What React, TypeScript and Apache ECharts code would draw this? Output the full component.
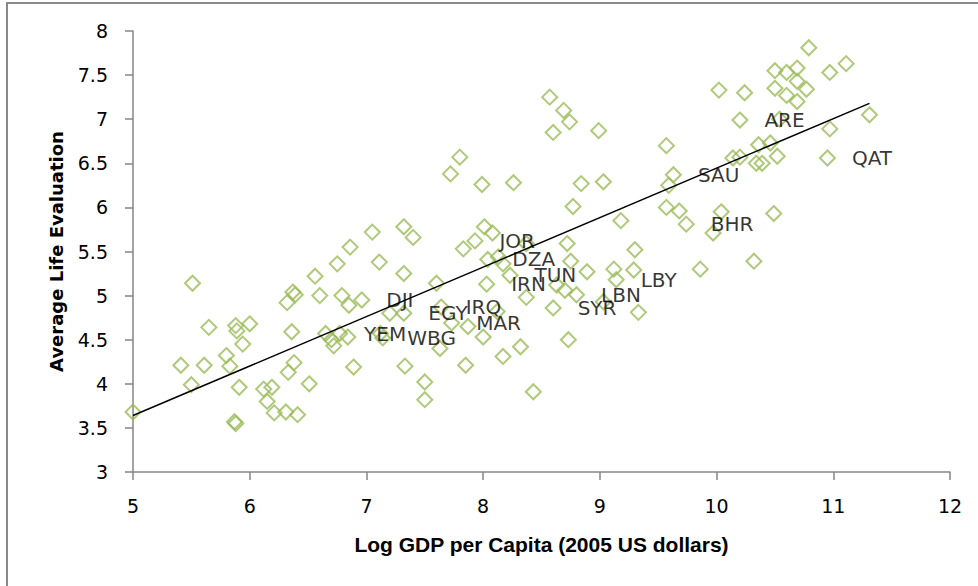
import React, { useEffect, useRef } from "react";
import * as echarts from "echarts";

// Unlabelled countries
const logGdp = [
  5.0, 5.41, 5.5, 5.51, 5.61, 5.65, 5.8, 5.83, 5.88, 5.89, 5.94, 6.0, 5.91, 5.87, 5.88,
  6.12, 6.19, 6.15, 6.21, 6.31, 6.41, 6.32, 6.37, 6.39, 6.36, 6.33, 6.38, 6.51, 6.56, 6.6,
  6.75, 6.79, 6.85, 6.65, 6.7, 6.72, 6.84, 6.89, 6.86, 7.05, 7.11, 7.32, 7.4, 7.32, 7.2,
  7.12, 7.33, 7.5, 7.5, 7.6, 7.87, 7.63, 7.85, 8.0, 8.12, 8.17, 8.32, 8.43, 8.73, 7.72,
  7.8, 7.99, 8.26, 7.83, 8.01, 8.08, 8.13, 8.17, 8.37, 8.37, 8.72, 8.75, 8.89, 8.63, 8.7,
  8.57, 8.69, 8.74, 8.6, 8.99, 8.84, 9.03, 8.77, 9.18, 9.3, 9.12, 9.29, 9.03, 9.33, 9.57,
  9.59, 9.57, 9.68, 9.97, 10.04, 9.86, 10.32, 10.49, 10.02, 10.24, 10.54, 10.79, 11.11, 10.97, 10.5,
  10.6, 10.69, 10.69, 10.5, 10.6, 10.77, 10.69, 11.31, 10.97, 10.36, 10.46, 10.52, 10.14, 10.2, 10.34,
  10.39,
];
const lifeEvaluation = [
  3.68, 4.21, 3.99, 5.14, 4.21, 4.64, 4.32, 4.2, 4.66, 4.6, 4.45, 4.68, 3.96, 3.57, 3.55,
  3.94, 3.96, 3.8, 3.67, 3.68, 3.65, 4.92, 5.04, 5.01, 4.59, 4.13, 4.24, 4.0, 5.22, 5.0,
  5.36, 5.0, 4.89, 4.57, 4.5, 4.43, 4.53, 4.19, 5.55, 5.72, 5.38, 5.78, 5.66, 5.25, 4.8,
  4.57, 4.2, 4.02, 3.82, 5.14, 4.65, 4.4, 4.21, 4.53, 4.82, 4.31, 4.42, 3.91, 4.5, 6.38,
  6.57, 6.26, 6.28, 5.53, 5.78, 5.71, 5.44, 5.36, 4.98, 5.59, 5.59, 5.39, 5.27, 5.12, 5.06,
  7.25, 7.1, 6.97, 6.85, 6.87, 6.27, 6.29, 6.01, 5.85, 5.52, 5.3, 5.29, 4.93, 4.81, 6.7,
  6.25, 6.0, 5.96, 5.71, 5.95, 5.3, 5.39, 5.93, 7.33, 7.3, 7.0, 7.81, 7.63, 7.53, 7.55,
  7.53, 7.58, 7.43, 7.35, 7.27, 7.34, 7.2, 7.05, 6.89, 6.71, 6.73, 6.58, 6.56, 6.57, 6.5,
  6.5,
];

// Labelled (MENA) countries
const labelledCodes = ["DJI", "YEM", "EGY", "WBG", "IRQ", "MAR", "JOR", "DZA", "TUN", "IRN", "LBN", "SYR", "LBY", "SAU", "BHR", "ARE", "QAT"];
const labelledGdp = [6.96, 6.77, 7.32, 7.14, 7.64, 7.73, 7.93, 8.04, 8.23, 8.03, 8.8, 8.6, 9.14, 9.63, 9.74, 10.2, 10.95];
const labelledLife = [4.95, 4.57, 4.8, 4.52, 4.87, 4.69, 5.62, 5.41, 5.23, 5.13, 5.01, 4.86, 5.18, 6.37, 5.81, 6.99, 6.56];

// Linear trend line end points
const trendGdp = [5.0, 11.31];
const trendLife = [3.64, 7.18];

const GREEN = "#9BBB59";
const AXIS_GREY = "#868686";

export default function App() {
  const ref = useRef<HTMLDivElement>(null);
  useEffect(() => {
    const chart = echarts.init(ref.current!, null, { renderer: "svg" });
    const markerStyle = {
      color: "rgba(255,255,255,0)",
      borderColor: GREEN,
      borderWidth: 2,
    };
    chart.setOption({
      animation: false,
      backgroundColor: "#ffffff",
      grid: { left: 133, right: 28, top: 31, bottom: 114 },
      graphic: [
        {
          type: "rect",
          shape: { x: 7, y: 3, width: 1000, height: 620 },
          style: { fill: "none", stroke: "#8a8a8a", lineWidth: 2 },
          silent: true,
        },
      ],
      xAxis: {
        type: "value",
        min: 5,
        max: 12,
        interval: 1,
        name: "Log GDP per Capita (2005 US dollars)",
        nameLocation: "middle",
        nameGap: 62,
        nameTextStyle: { fontFamily: "Liberation Sans", fontWeight: "bold", fontSize: 21, color: "#000" },
        axisLine: { onZero: false, lineStyle: { color: AXIS_GREY, width: 1.5 } },
        axisTick: { show: true, length: 8, lineStyle: { color: AXIS_GREY, width: 1.5 } },
        axisLabel: { margin: 24, fontFamily: "DejaVu Sans", fontSize: 19, color: "#000" },
        splitLine: { show: false },
      },
      yAxis: {
        type: "value",
        min: 3,
        max: 8,
        interval: 0.5,
        name: "Average Life Evaluation",
        nameLocation: "middle",
        nameGap: 68,
        nameRotate: 90,
        nameTextStyle: { fontFamily: "DejaVu Sans", fontWeight: "bold", fontSize: 18, color: "#000" },
        axisLine: { show: true, onZero: false, lineStyle: { color: AXIS_GREY, width: 1.5 } },
        axisTick: { show: true, length: 8, lineStyle: { color: AXIS_GREY, width: 1.5 } },
        axisLabel: { margin: 25, fontFamily: "DejaVu Sans", fontSize: 19, color: "#000" },
        splitLine: { show: false },
      },
      series: [
        {
          type: "scatter",
          symbol: "diamond",
          symbolSize: 15,
          itemStyle: markerStyle,
          data: logGdp.map((x, i) => [x, lifeEvaluation[i]]),
          z: 3,
        },
        {
          type: "scatter",
          symbol: "diamond",
          symbolSize: 15,
          itemStyle: markerStyle,
          data: labelledGdp.map((x, i) => ({ value: [x, labelledLife[i]], name: labelledCodes[i] })),
          label: {
            show: true,
            position: "right",
            distance: 16,
            formatter: "{b}",
            fontFamily: "DejaVu Sans",
            fontSize: 20,
            color: "#000",
          },
          z: 4,
        },
        {
          type: "line",
          data: trendGdp.map((x, i) => [x, trendLife[i]]),
          symbol: "none",
          lineStyle: { color: "#000", width: 1.5 },
          z: 5,
        },
      ],
    });
    return () => chart.dispose();
  }, []);
  return <div ref={ref} style={{ position: "fixed", left: 0, top: 0, width: 978, height: 586 }} />;
}
